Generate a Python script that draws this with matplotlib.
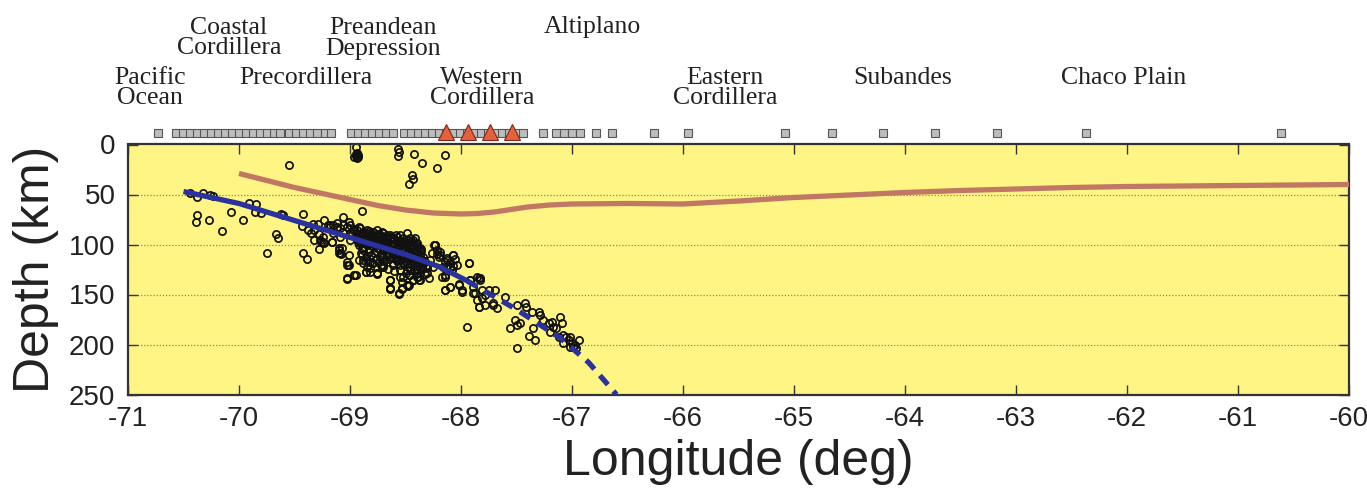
import matplotlib
matplotlib.use("Agg")
import matplotlib.pyplot as plt

plt.rcParams["axes.unicode_minus"] = False

# ---------------- data ----------------
xticks = [-71, -70, -69, -68, -67, -66, -65, -64, -63, -62, -61, -60]
yticks = [0, 50, 100, 150, 200, 250]

station_lon = [-70.73,
               -70.566, -70.503, -70.440, -70.377, -70.313, -70.250, -70.187, -70.124,
               -70.061, -69.997, -69.934, -69.871, -69.808, -69.744, -69.681, -69.627,
               -69.546, -69.482, -69.419, -69.356, -69.293, -69.229, -69.175,
               -68.995, -68.931, -68.868, -68.805, -68.742, -68.678, -68.615,
               -68.516, -68.453, -68.389, -68.326, -68.263, -68.200, -68.136, -68.073,
               -68.010, -67.947, -67.883, -67.820, -67.757, -67.694, -67.631, -67.567,
               -67.504, -67.441,
               -67.26, -67.143, -67.070, -66.998, -66.926, -66.781, -66.637, -66.257,
               -65.959, -65.083, -64.659, -64.198, -63.728, -63.168, -62.373, -60.612]
volcano_lon = [-68.136, -67.938, -67.739, -67.540]

moho_lon = [-70.0, -69.75, -69.5, -69.25, -69.0, -68.75, -68.5, -68.25, -68.0, -67.85,
            -67.7, -67.55, -67.4, -67.2, -67.0, -66.5, -66.0,
            -65.5, -65.0, -64.5, -64.0, -63.5, -63.0, -62.5, -62.0, -61.5, -61.0,
            -60.5, -60.0]
moho_depth = [29, 36, 43, 49, 55, 61, 65.5, 68.5, 69.5, 69,
              67.5, 65, 62.5, 60.5, 59.5, 59, 59.5,
              56.5, 53, 50.5, 48, 46, 44.5, 43, 42, 41.5, 41,
              40.5, 40]

slab_lon = [-70.50, -70.0, -69.5, -69.0, -68.5, -68.2, -67.95]
slab_depth = [47, 59, 76, 93, 110, 122, 136]
slab_dash_lon = [-67.95, -67.5, -67.1, -66.85, -66.60]
slab_dash_depth = [136, 165, 194, 218, 250]

eq_lon = [
    -70.44, -70.38, -70.38, -70.39, -70.32, -70.27, -70.26, -70.23, -70.15, -70.07,
    -69.96, -69.91, -69.85, -69.86, -69.80, -69.75, -69.67, -69.65, -69.62, -69.60,
    -69.55, -69.42, -69.43, -69.38, -69.35, -69.32, -69.27, -69.24, -69.28, -69.23,
    -69.20, -69.16, -69.42, -69.39, -69.10, -69.08, -69.02, -69.03, -68.96, -68.89,
    -68.86, -68.82, -68.76, -68.70, -68.64, -68.64, -68.56, -68.53, -68.48, -68.43,
    -68.39, -68.32, -68.24, -68.22, -68.14, -68.14, -68.10, -68.07, -68.05, -68.02,
    -68.95, -68.94, -68.93, -68.95, -68.94, -68.93, -68.95, -68.57, -68.56, -68.57,
    -68.42, -68.14, -68.35, -68.22, -68.44, -68.43, -68.47, -68.96,
    -69.33, -69.29, -69.32, -69.28, -69.24, -69.26, -69.23,
    -69.18, -69.15, -69.12, -69.09, -69.06, -69.03, -69.00, -68.97, -68.94, -68.91,
    -68.88, -68.85, -68.82, -68.79, -68.76, -68.73, -68.70, -68.67, -68.64, -68.61,
    -68.58, -68.55, -68.52, -68.49, -68.46, -68.43, -68.40, -69.06, -69.01, -68.92,
    -68.77, -68.68, -68.55, -68.49, -68.41, -68.37, -68.23,
    -69.15, -69.00, -68.85, -68.70, -68.55, -68.40, -68.25, -69.09, -68.91, -68.76,
    -68.61, -68.46, -68.31,
    -69.16, -69.10, -69.07, -69.03, -69.01, -68.95, -69.03, -68.88, -68.85, -68.82,
    -68.80, -68.76, -68.74, -68.71, -68.70, -68.67, -68.64, -68.64, -68.61, -68.58,
    -68.55, -68.53, -68.52, -68.49, -68.47, -68.46, -68.43, -68.41, -68.40, -68.38,
    -68.35, -68.32, -68.31, -68.29, -68.26, -68.22, -68.19, -68.17, -68.16, -68.14,
    -68.13, -68.10, -68.08, -68.07, -68.04, -67.99, -67.93, -67.92, -67.89, -67.84,
    -67.83, -67.81, -67.78, -67.75, -67.71, -67.84, -67.89,
    -69.10, -69.09, -69.03, -68.96, -69.01, -68.92, -68.89, -68.88, -68.86, -68.82,
    -68.76, -68.70, -68.64, -68.64, -68.56, -68.53, -68.47, -68.43, -68.40, -68.37,
    -68.31, -68.52, -68.49, -68.46, -68.40, -68.35, -68.31, -68.28, -68.23, -68.20,
    -68.19, -68.14, -68.13, -68.10, -68.07, -68.14, -68.10, -68.02, -67.99, -67.93,
    -67.95, -67.92, -67.87, -67.86, -67.83, -67.84, -67.81, -67.78, -67.86, -67.69,
    -67.60, -67.71, -67.68, -67.50, -67.42, -67.41, -67.56, -67.50, -67.47, -67.51,
    -67.50, -67.39, -67.36, -67.33, -67.35, -67.30, -67.29, -67.26, -67.21, -67.18,
    -67.17, -67.14, -67.11, -67.09, -67.20, -67.12, -67.08, -67.05, -67.03, -67.02,
    -67.00, -66.99, -66.97, -66.96, -66.94, -67.08, -67.02,
    -69.18, -69.12, -69.06, -69.00, -68.94, -68.88, -68.82, -68.79, -68.73, -68.67,
    -68.61, -68.55, -68.49, -68.43, -68.46, -68.40,
    -68.95, -68.93, -68.90, -68.87, -68.84, -68.82, -68.80, -68.78, -68.75, -68.72,
    -68.70, -68.68, -68.66, -68.63, -68.60, -68.58, -68.56, -68.53, -68.50, -68.47,
    -68.45, -68.42, -68.40, -68.37,
    -68.92, -68.89, -68.86, -68.83, -68.80, -68.77, -68.74, -68.71, -68.68, -68.65,
    -68.62, -68.59, -68.57, -68.54, -68.51, -68.48, -68.45, -68.43, -68.41, -68.38,
    -68.90, -68.86, -68.81, -68.77, -68.73, -68.69, -68.65, -68.61, -68.58, -68.55,
    -68.51, -68.47, -68.44, -68.40,
    -68.98, -68.96, -68.86, -68.83, -68.74, -68.71, -68.63, -68.59, -68.52, -68.48,
    -68.44, -68.39, -68.36, -68.34, -68.33, -68.35, -68.37, -68.42, -68.46, -68.50,
    -68.55, -68.60, -68.66, -68.72, -68.79, -68.84,
    -68.91, -68.88, -68.84, -68.81, -68.78, -68.74, -68.71, -68.67, -68.64, -68.60,
    -68.57, -68.53, -68.50, -68.46, -68.43, -68.39, -68.36,
    -68.93, -68.89, -68.85, -68.79, -68.75, -68.70, -68.66, -68.62, -68.57, -68.53,
    -68.49, -68.45, -68.41, -68.38, -68.35,
    -68.88, -68.83, -68.78, -68.72, -68.67, -68.62, -68.58, -68.54, -68.50, -68.46,
    -68.42, -68.39,
]
eq_depth = [
    48, 52, 70.5, 77, 48, 75, 50.5, 51.5, 86, 67.5,
    75, 58, 59.5, 67, 68, 108, 89, 93.5, 69.5, 70,
    20, 69.5, 81.5, 85, 88, 95, 95.5, 97, 104, 75.5,
    80.5, 97, 108, 114, 105, 109, 120.5, 134, 130.5, 66,
    127, 117, 129, 120.5, 135.5, 144, 149.5, 144, 141, 135.5,
    132, 129, 100.5, 109, 132, 145.5, 142, 121.5, 114, 139,
    2, 8, 10, 11, 13, 12, 9, 4, 7, 11.5,
    9, 10, 18, 23, 30, 34, 39, 12,
    79, 79.5, 85.5, 89, 92, 97, 98,
    82.2, 80.5, 78.8, 83.8, 87.2, 82.2, 80.5, 85.5, 88.8, 83.8,
    87.2, 85.5, 88.8, 87.2, 85.5, 90.5, 88.8, 92.2, 90.5, 93.8,
    92.2, 95.5, 93.8, 97.2, 98.8, 95.5, 100.5, 72.2, 77.2, 82.2,
    90.5, 93.8, 90.5, 88.8, 93.8, 103.8, 100.5,
    88.8, 95.5, 100.5, 105.5, 110.5, 117.2, 122.2, 92.2, 98.8, 103.8,
    108.8, 113.8, 120.5,
    97.2, 108.8, 103.8, 117.2, 120.5, 130.5, 133.8, 115.5, 122.2, 127.2,
    118.8, 128.8, 117.2, 122.2, 112.2, 108.8, 135.5, 143.8, 120.5, 115.5,
    125.5, 137.2, 132.2, 140.5, 130.5, 125.5, 135.5, 118.8, 128.8, 135.5,
    122.2, 117.2, 123.8, 133.8, 108.8, 105.5, 110.5, 132.2, 122.2, 117.2,
    113.8, 122.2, 125.5, 110.5, 120.5, 145.5, 118.2, 135.5, 142.2, 133.8,
    135.5, 145.5, 150.5, 145.5, 158.8, 162.2, 148.8,
    103.8, 108.8, 120.5, 130.5, 110.5, 115.5, 110.5, 118.8, 127.2, 123.8,
    128.8, 122.2, 135.5, 143.8, 148.8, 143.8, 140.5, 135.5, 132.2, 135.5,
    128.8, 118.8, 125.5, 122.2, 125.5, 120.5, 122.2, 115.5, 100.5, 112.2,
    107.2, 130.5, 115.5, 117.2, 110.5, 145.5, 142.2, 140.5, 147.2, 118.2,
    182.2, 135.5, 148.8, 132.2, 133.8, 162.2, 153.8, 160.5, 155.5, 145.5,
    152.2, 160.5, 163.8, 160.5, 158.8, 162.2, 183.8, 180.5, 178.8, 175.5,
    203.8, 191.5, 167.2, 195.5, 183.8, 167.2, 170.5, 175.5, 178.8, 177.2,
    182.2, 183.8, 172.2, 178.8, 187.2, 192.2, 190.5, 192.2, 195.5, 192.2,
    198.8, 202.2, 200.5, 203.8, 195.5, 198.8, 202.2,
    80.5, 82.2, 80.5, 88.8, 85.5, 88.8, 90.5, 87.2, 92.2, 90.5,
    93.8, 97.2, 95.5, 100.5, 93.8, 98.8,
    92, 95, 91, 94, 92, 96, 93, 97, 95, 98,
    95, 99, 97, 101, 99, 103, 100, 104, 102, 106,
    104, 108, 106, 110,
    100, 103, 99, 104, 101, 106, 103, 108, 105, 110,
    107, 112, 108, 113, 110, 115, 112, 117, 114, 119,
    108, 112, 110, 114, 112, 116, 114, 118, 116, 120,
    118, 122, 120, 124,
    88, 84, 88, 86, 89, 87, 92, 90, 97, 99,
    97, 102, 106, 112, 116, 124, 128, 126, 130, 128,
    132, 126, 124, 120, 118, 116,
    90, 89, 91, 90, 92, 91, 93, 94, 93, 95,
    96, 97, 99, 100, 101, 103, 104,
    97, 96, 97, 99, 100, 101, 102, 104, 105, 106,
    108, 109, 111, 113, 115,
    105, 107, 108, 110, 111, 113, 112, 115, 116, 118,
    119, 121,
]

regions = ["Pacific\nOcean", "Coastal\nCordillera", "Precordillera",
           "Preandean\nDepression", "Western\nCordillera", "Altiplano",
           "Eastern\nCordillera", "Subandes", "Chaco Plain"]
region_lon = [-70.80, -70.09, -69.40, -68.70, -67.81, -66.82, -65.62, -64.02, -62.03]
region_row = [0, 1, 0, 1, 0, 1, 0, 0, 0]

# ---------------- figure ----------------
W, H = 1367, 492
fig = plt.figure(figsize=(W / 100, H / 100), dpi=100)
ax = fig.add_axes([128 / W, 1 - 394.5 / H, (1349 - 128) / W, 250 / H])
ax.set_facecolor("#FFF585")

ax.set_xlim(-71, -60)
ax.set_ylim(250, 0)

for y in yticks[1:-1]:
    ax.axhline(y, color="#8a8a60", lw=0.9, ls=(0, (1, 1.5)), zorder=1)

ax.plot(eq_lon, eq_depth, ls="none", marker="o", ms=5.2, mfc="none",
        mec="#111111", mew=1.25, zorder=3)

ax.plot(moho_lon, moho_depth, color="#C07864", lw=3.8, solid_capstyle="butt",
        solid_joinstyle="round", zorder=4)
ax.plot(slab_lon, slab_depth, color="#2A32A0", lw=3.8, solid_capstyle="butt",
        solid_joinstyle="round", zorder=5)
ax.plot(slab_dash_lon, slab_dash_depth, color="#2A32A0", lw=3.8,
        ls=(0, (2.3, 1.6)), dash_capstyle="butt", zorder=5)

ax.plot(station_lon, [-12] * len(station_lon), ls="none", marker="s", ms=6,
        mfc="#BDBDBD", mec="#555555", mew=0.8, clip_on=False, zorder=6)
ax.plot(volcano_lon, [-12.5] * len(volcano_lon), ls="none", marker="^", ms=11,
        mfc="#E5603D", mec="#7a2a18", mew=0.8, clip_on=False, zorder=7)

ax.set_xticks(xticks)
ax.set_yticks(yticks)
ax.tick_params(axis="both", direction="in", length=7, width=1.0, color="#333333",
               labelsize=20, top=True, right=True, pad=6)
for lab in ax.get_xticklabels() + ax.get_yticklabels():
    lab.set_fontfamily("Liberation Sans")
    lab.set_color("#222222")
ax.tick_params(axis="x", pad=8)
ax.tick_params(axis="y", pad=9)
for s in ax.spines.values():
    s.set_linewidth(1.6)
    s.set_color("#333333")

fig.text(36 / W, 1 - 269 / H, "Depth (km)", rotation=90, ha="center", va="center",
         fontsize=36, family="Liberation Sans", color="#222222")
fig.text(738 / W, 1 - 462 / H, "Longitude (deg)", ha="center", va="center",
         fontsize=36, family="Liberation Sans", color="#222222")

# first-line centre y (px from top) for each row; second line 21 px below
row_y = {0: 75, 1: 25}
for name, lon, row in zip(regions, region_lon, region_row):
    xf = ax.transData.transform((lon, 0))[0] / W
    for i, line in enumerate(name.split("\n")):
        fig.text(xf, 1 - (row_y[row] + 21 * i) / H, line, ha="center",
                 va="center_baseline", fontsize=18.5, family="Liberation Serif",
                 color="#222222")

fig.savefig("out.png", dpi=100)
